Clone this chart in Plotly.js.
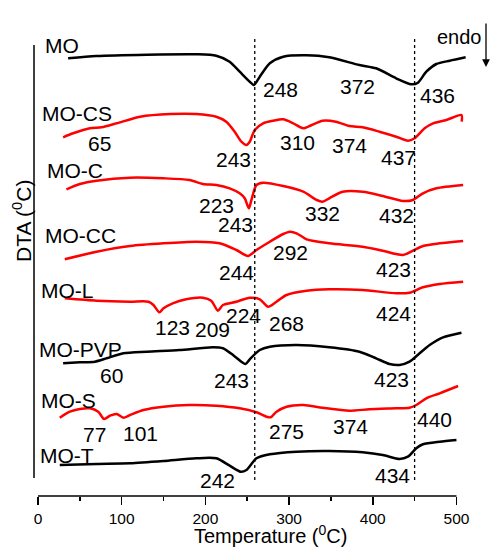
<!DOCTYPE html>
<html><head><meta charset="utf-8">
<script src="https://cdn.plot.ly/plotly-3.0.1.min.js"></script>
<style>html,body{margin:0;padding:0;background:#fff}#chart{width:490px;height:547px}</style>
</head><body><div id="chart"></div>
<script>
// ---- data (temperature in °C, DTA signal in arbitrary units) ----
const seriesNames = ['MO','MO-CS','MO-C','MO-CC','MO-L','MO-PVP','MO-S','MO-T'];
const seriesOffsets = [410,350,285,230,180,125,75,20];

const tMO  = [36,70,130,189,213,229,241,253,258,265,277,293,321,348,384,404,428,446,454,464,476,492,511];
const yMO  = [27.7,30,31.3,31.7,30.3,24.3,14.3,4.3,1,9.3,22.7,29.3,30.7,28.7,21,17.7,7.7,1.7,3.3,14.3,22,25.3,28.7];

const tMOCS = [30,42,62,76,94,122,158,189,213,225,235,243,249,253,259,269,281,293,305,317,327,340,356,372,388,408,428,442,450,462,472,488,506,506.3];
const yMOCS = [8.7,12.7,17.7,18.7,22.7,29.3,32,32,29.3,24.3,14.3,4.3,1,4.3,16,22.7,25.3,26.7,22.7,17.7,21,25.3,24.3,20,18.7,14.3,9.3,5.3,7.7,17.7,22.7,26,31,24.3];

const tMOC = [34,50,70,110,150,181,197,213,229,241,247,252,255,261,269,293,317,333,340,348,364,388,412,436,448,460,476,508];
const yMOC = [21.7,27,30.3,33.3,32.7,31,27,26,22.7,17.7,12.7,2.7,11,26,28.3,25,19.3,11,9.3,12.7,19.3,19.3,15,10,11,17.7,22.7,26];

const tMOCC = [32,70,110,150,189,217,237,251,261,277,293,301,309,321,348,388,412,436,448,460,480,508];
const yMOCC = [6.7,14.3,20,22.7,24.3,22.7,16,10,16,24.3,32,34.3,32.7,26.7,22.7,19.3,15.3,11,15.3,20,22.7,25];

const tMOL = [32,70,110,132,138,145,150,161,177,197,207,215,221,237,253,265,275,285,297,321,348,388,428,444,460,480,508];
const yMOL = [17.7,15.3,14.3,14.3,11,3.7,7.7,12.7,16.7,18.3,15.3,5.3,11,14.3,18.3,16.7,9.3,14.3,21,25.3,26.7,26,22.7,23.3,28.7,32,34.3];

const tMOPVP = [30,50,68,82,102,130,169,209,221,233,243,248,253,265,277,309,348,384,404,420,432,444,456,468,484,506];
const yMOPVP = [7.7,8.7,9.3,12.7,17.7,19.3,21,23.7,22.7,16,9.3,7,11.7,21,24.3,26,23.7,19.3,12.7,7,6,9.3,17.7,26,33.7,38.3];

const tMOS = [26,38,50,62,72,79,86,94,102,110,126,150,181,213,241,261,273,278,285,297,317,340,372,396,428,444,452,464,480,502];
const yMOS = [3.3,9.3,12,12.7,9.3,2,5.3,7,3.3,6,11,14.3,16,15.3,12.7,8.7,4.3,3.7,9.3,14.3,16,13.3,10.3,11.7,12.7,13.3,16,22.7,27.7,35];

const tMOT = [26,70,110,150,189,213,229,242,249,261,277,309,348,388,412,432,442,452,460,480,500];
const yMOT = [11,12,12.7,15,17.7,17.7,10.3,4.3,6,17.7,21.7,24.3,25,23.7,21,17,19.3,27.7,31.7,34.3,36];

const peakLabels = [
  ['248','372','436'],
  ['65','243','310','374','437'],
  ['223','243','332','432'],
  ['244','292','423'],
  ['123','209','224','268','424'],
  ['60','243','423'],
  ['77','101','275','374','440'],
  ['242','434']
];
const refTemps = [259, 450];
const xTicks = [0,100,200,300,400,500];
const xMinorTicks = [50,150,250,350,450];
const xTitle = 'Temperature (<sup>0</sup>C)';
const yTitle = 'DTA (<sup>0</sup>C)';

// ---- styling / layout ----
const tempsAll = [tMO,tMOCS,tMOC,tMOCC,tMOL,tMOPVP,tMOS,tMOT];
const dtaAll = [yMO,yMOCS,yMOC,yMOCC,yMOL,yMOPVP,yMOS,yMOT];
const colors = ['#000','#ff0000','#ff0000','#ff0000','#ff0000','#000','#ff0000','#000'];

const W=490,H=547, L=38, R=21, T=45, B=51;
const pw = W-L-R, ph = H-T-B;
const px2x = p => (p-L)/pw;
const py2y = p => (H-B-p)/ph;

// pixel centres for labels (layout only)
const namePos = [[43,45],[40,113.5],[45,170],[43,235],[39,290.5],[37,349.5],[39,400],[38,455]];
const peakPos = [
  [[280,89.5],[357,86.5],[437,95]],
  [[99,143.5],[233,159],[297,142.5],[349,145],[398,157]],
  [[216,205.5],[235,224.5],[322,213.5],[396,215]],
  [[236,272.5],[290,252],[393,269.5]],
  [[172,327],[212,329.5],[243,315],[286,323.5],[393,313.5]],
  [[111,375],[231,380.5],[391,379.5]],
  [[94,434],[140,433.5],[286,431],[350,426.5],[434,419.5]],
  [[217,480.5],[392,475.5]]
];

const FONT = 'Liberation Sans, Arial, Helvetica, sans-serif';
const traces = seriesNames.map((n,i)=>({
  type:'scatter', mode:'lines', name:n,
  x: tempsAll[i],
  y: dtaAll[i].map(v=>v+seriesOffsets[i]),
  line:{color:colors[i], width:2.5, shape:'spline', smoothing:0.7},
  hoverinfo:'skip', showlegend:false
}));

const annotations = [];
seriesNames.forEach((n,i)=>{
  annotations.push({xref:'paper',yref:'paper',x:px2x(namePos[i][0]),y:py2y(namePos[i][1]),
    text:n,showarrow:false,xanchor:'left',yanchor:'middle',font:{family:FONT,size:21,color:'#000'}});
  peakLabels[i].forEach((lab,j)=>{
    annotations.push({xref:'paper',yref:'paper',x:px2x(peakPos[i][j][0]),y:py2y(peakPos[i][j][1]),
      text:lab,showarrow:false,xanchor:'center',yanchor:'middle',font:{family:FONT,size:21,color:'#000'}});
  });
});
annotations.push({xref:'paper',yref:'paper',x:px2x(22),y:py2y(221),text:yTitle,
  textangle:-90,showarrow:false,xanchor:'center',yanchor:'middle',font:{family:FONT,size:21,color:'#000'}});
annotations.push({xref:'paper',yref:'paper',x:px2x(270),y:py2y(534),text:xTitle,
  showarrow:false,xanchor:'center',yanchor:'middle',borderpad:0,font:{family:FONT,size:20,color:'#000'}});
annotations.push({xref:'paper',yref:'paper',x:px2x(459),y:py2y(37),text:'endo',
  showarrow:false,xanchor:'center',yanchor:'middle',font:{family:FONT,size:20,color:'#000'}});
annotations.push({xref:'paper',yref:'paper',x:px2x(486),y:py2y(67),text:' ',
  showarrow:true,ax:0,ay:-52,arrowhead:2,arrowsize:1.2,arrowwidth:1.3,arrowcolor:'#000'});

const shapes = [];
refTemps.forEach(t=>{
  shapes.push({type:'line',xref:'x',yref:'paper',x0:t,x1:t,y0:py2y(480),y1:py2y(37),
    line:{color:'#000',width:1.3,dash:'dot'}});
});
shapes.push({type:'line',xref:'x',yref:'paper',x0:xTicks[0],x1:xTicks[xTicks.length-1],y0:0,y1:0,line:{color:'#000',width:1.5}});
shapes.push({type:'line',xref:'paper',yref:'paper',x0:px2x(34),x1:px2x(34),y0:py2y(478),y1:1,line:{color:'#000',width:1.5}});

const layout = {
  width:W,height:H,margin:{l:L,r:R,t:T,b:B},
  paper_bgcolor:'#fff',plot_bgcolor:'#fff',
  font:{family:FONT,color:'#000'},
  xaxis:{range:[0,515],showgrid:false,zeroline:false,showline:false,
    tickmode:'array',tickvals:xTicks,ticks:'outside',ticklen:8,tickwidth:1.5,tickcolor:'#000',
    tickfont:{family:FONT,size:15.5,color:'#000'},
    minor:{tickmode:'array',tickvals:xMinorTicks,ticks:'outside',ticklen:4,tickwidth:1.5,tickcolor:'#000',showgrid:false},
    automargin:false},
  yaxis:{range:[0,ph],visible:false,showgrid:false,zeroline:false},
  annotations, shapes
};
Plotly.newPlot('chart',traces,layout,{staticPlot:true,displayModeBar:false});
</script></body></html>
